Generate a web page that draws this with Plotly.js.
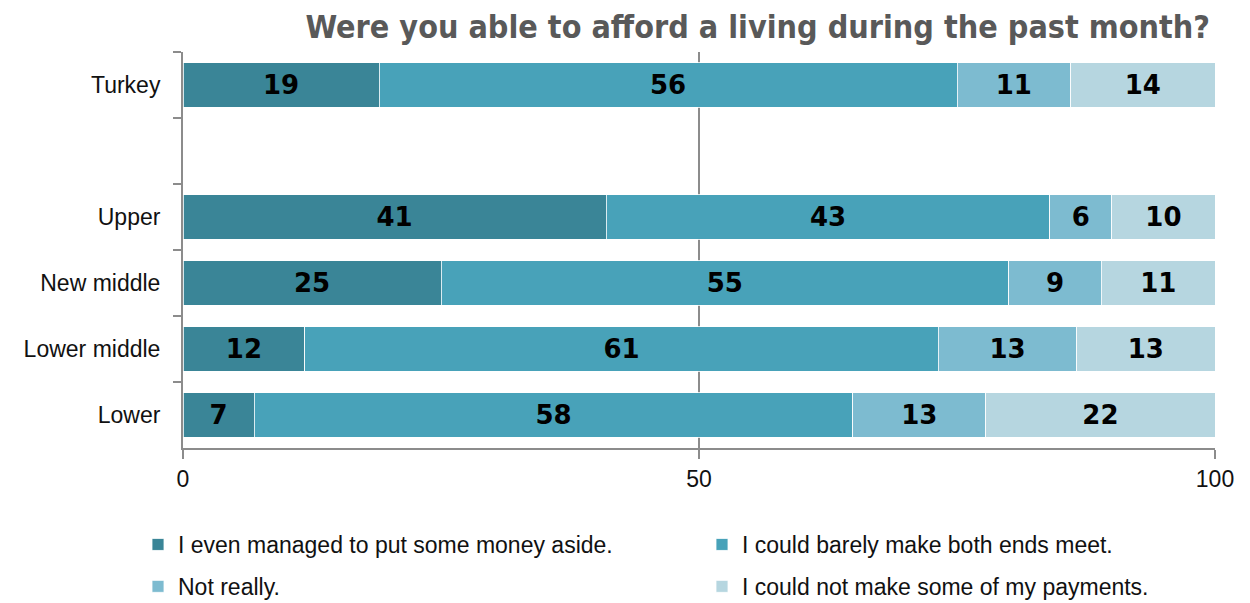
<!DOCTYPE html>
<html>
<head>
<meta charset="utf-8">
<script src="https://cdn.plot.ly/plotly-3.0.1.min.js"></script>
<style>html,body{margin:0;padding:0;background:#fff;}#chart{width:1250px;height:603px;}</style>
</head>
<body>
<div id="chart"></div>
<script>
const categories = ["Turkey", " ", "Upper", "New middle", "Lower middle", "Lower"];
const seriesNames = [
  "I even managed to put some money aside.",
  "I could barely make both ends meet.",
  "Not really.",
  "I could not make some of my payments."
];
const savedMoney   = [19, null, 41, 25, 11.8, 6.9];
const barelyMeet   = [56, null, 43, 55, 61.4, 58.0];
const notReally    = [11, null, 6, 9, 13.4, 12.9];
const missedPaymts = [14, null, 10, 11, 13.4, 22.2];
const xTicks = [0, 50, 100];
const colors = ["#3a8597", "#48a2b9", "#7dbbd0", "#b6d6e0"];
const legendOf = ["legend", "legend2", "legend", "legend2"];

const series = [savedMoney, barelyMeet, notReally, missedPaymts];
const traces = series.map((vals, i) => ({
  type: "bar",
  orientation: "h",
  name: seriesNames[i],
  legend: legendOf[i],
  legendgroup: "g" + i,
  y: categories,
  x: vals,
  text: vals.map(v => v == null ? "" : String(Math.round(v))),
  textposition: "inside",
  insidetextanchor: "middle",
  textangle: 0,
  constraintext: "none",
  textfont: {family: "DejaVu Sans", size: 26, color: "#000", weight: "bold"},
  marker: {color: colors[i], line: {color: "rgba(255,255,255,0.8)", width: 1}},
  hoverinfo: "none"
}));

const legendBase = {
  orientation: "v", traceorder: "grouped",
  xref: "container", xanchor: "left",
  y: 80/603, yref: "container", yanchor: "top",
  itemwidth: 30,
  font: {size: 23, color: "#111"},
  tracegroupgap: 9,
  bgcolor: "rgba(0,0,0,0)"
};

const layout = {
  width: 1250, height: 603,
  barmode: "stack",
  bargap: 0.33,
  margin: {l: 183, r: 35, t: 52, b: 155, autoexpand: false},
  paper_bgcolor: "#fff", plot_bgcolor: "#fff",
  font: {family: "Liberation Sans, Arial, sans-serif", size: 23, color: "#111"},
  title: {
    text: "<b>Were you able to afford a living during the past month?</b>",
    font: {family: "DejaVu Sans Condensed, DejaVu Sans, sans-serif", size: 32, color: "#595959"},
    xref: "container", x: 0.968, xanchor: "right",
    yref: "container", y: 0.955, yanchor: "middle"
  },
  xaxis: {
    range: [0, 100], tickvals: xTicks, ticktext: xTicks.map(String),
    showgrid: true, gridcolor: "#8c8c8c", gridwidth: 1.5,
    showline: true, linecolor: "#8c8c8c", linewidth: 2,
    ticks: "outside", ticklen: 9, tickcolor: "#8c8c8c", tickwidth: 1.5,
    zeroline: false, fixedrange: true, automargin: false,
    tickfont: {size: 23, color: "#111"}
  },
  yaxis: {
    type: "category", categoryorder: "array", categoryarray: categories,
    autorange: "reversed",
    tickson: "boundaries", ticks: "outside", ticklen: 8, tickcolor: "#8c8c8c", tickwidth: 2,
    showline: true, linecolor: "#8c8c8c", linewidth: 2,
    showgrid: false, zeroline: false, fixedrange: true, automargin: false,
    ticklabelstandoff: 16,
    tickfont: {size: 23, color: "#111"}
  },
  showlegend: true,
  legend: Object.assign({}, legendBase, {x: 138/1250}),
  legend2: Object.assign({}, legendBase, {x: 702/1250})
};

Plotly.newPlot("chart", traces, layout, {displayModeBar: false, staticPlot: true});
</script>
</body>
</html>
